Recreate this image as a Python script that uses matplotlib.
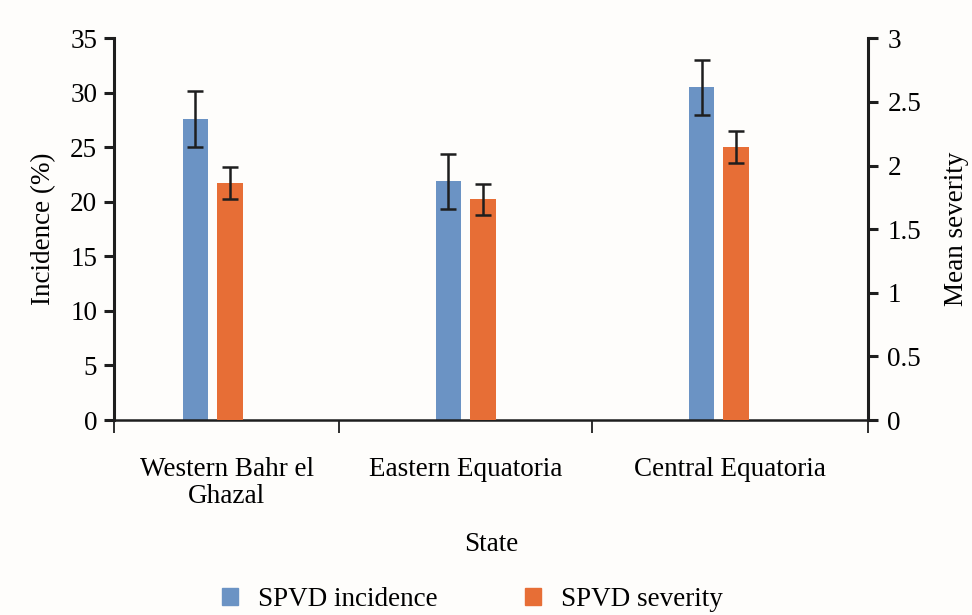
import numpy as np
import matplotlib
matplotlib.use("Agg")
import matplotlib.pyplot as plt
from matplotlib.patches import Patch

plt.rcParams['font.family'] = ['Liberation Serif', 'DejaVu Serif']

states = ["Western Bahr el\nGhazal", "Eastern Equatoria", "Central Equatoria"]
incidence = [27.6, 21.9, 30.5]
incidence_err = [2.55, 2.52, 2.55]
severity = [1.86, 1.735, 2.145]
severity_err = [0.125, 0.12, 0.125]
series_names = ["SPVD incidence", "SPVD severity"]

blue = '#6B93C4'
orange = '#E76E36'
dark = '#1E1E1E'
fs = 19.5

fig = plt.figure(figsize=(9.72, 6.15), dpi=100)
fig.patch.set_facecolor('#FEFDFB')
ax = fig.add_axes([114/972, (615-420)/615, (868-114)/972, (420-38.3)/615])
ax.set_facecolor('none')
ax2 = ax.twinx()

x = np.arange(len(states))
w = 0.1
off = 0.068
ekw = dict(ecolor=dark, elinewidth=1.8, capthick=1.8, capsize=5.5)
ax.bar(x - off, incidence, width=w, color=blue, yerr=incidence_err, error_kw=ekw, zorder=2)
ax2.bar(x + off, severity, width=w, color=orange, yerr=severity_err, error_kw=ekw, zorder=2)

xl = (-0.39, 2.59)
ax.set_xlim(*xl)
ax.set_ylim(0, 35)
ax2.set_ylim(0, 3)
ax.set_yticks(np.arange(0, 36, 5))
ax2.set_yticks(np.arange(0, 3.01, 0.5))
ax2.set_yticklabels(['0', '0.5', '1', '1.5', '2', '2.5', '3'])

bounds = [xl[0], 0.5, 1.5, xl[1]]
centers = [(bounds[i] + bounds[i+1]) / 2 for i in range(3)]
ax.set_xticks(centers)
ax.set_xticklabels(states, fontsize=fs, linespacing=1.1)
ax.set_xticks(bounds, minor=True)
ax.tick_params(axis='x', which='major', length=0, pad=27)
ax.tick_params(axis='x', which='minor', length=9.5, width=1.3, color=dark, direction='out')

ax.tick_params(axis='y', length=7, width=2.2, color=dark, labelsize=fs, pad=5)
ax2.tick_params(axis='y', length=7, width=2.2, color=dark, labelsize=fs, pad=7)

for a in (ax, ax2):
    a.spines['top'].set_visible(False)
ax.spines['right'].set_visible(False)
ax2.spines['left'].set_visible(False)
ax2.spines['bottom'].set_visible(False)
ax.spines['left'].set_linewidth(2.2)
ax.spines['left'].set_color(dark)
ax.spines['bottom'].set_linewidth(1.8)
ax.spines['bottom'].set_color(dark)
ax2.spines['right'].set_linewidth(2.2)
ax2.spines['right'].set_color(dark)

ax.set_ylabel("Incidence (%)", fontsize=fs, labelpad=10)
ax2.set_ylabel("Mean severity", fontsize=fs, labelpad=16)
ax.set_xlabel("State", fontsize=fs, labelpad=16)

handles = [Patch(color=blue, label=series_names[0]), Patch(color=orange, label=series_names[1])]
fig.legend(handles=handles, loc='lower center', bbox_to_anchor=(0.486, -0.035), ncol=2,
           frameon=False, fontsize=fs, handlelength=0.6, handleheight=0.6,
           columnspacing=3.2, handletextpad=0.75)

fig.savefig("out.png", dpi=100, facecolor=fig.get_facecolor())
